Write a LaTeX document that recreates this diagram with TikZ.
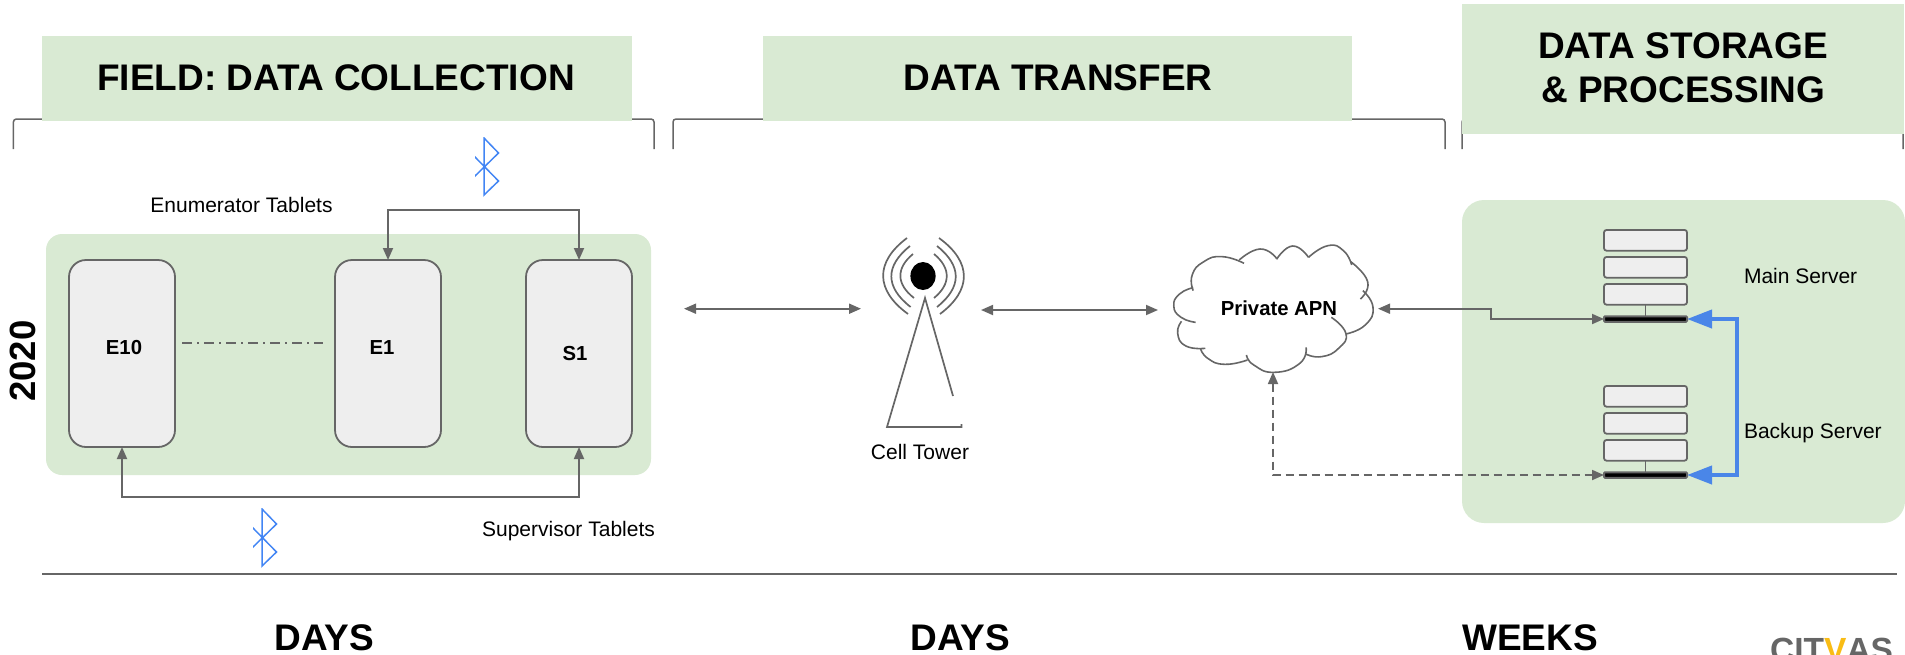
\documentclass[tikz,border=0pt]{standalone}
\usepackage{fontspec}
\setmainfont{Liberation Sans}
\usetikzlibrary{arrows.meta}
\definecolor{pale}{HTML}{D9EAD3}
\definecolor{ink}{HTML}{666666}
\definecolor{tab}{HTML}{EEEEEE}
\definecolor{bt}{HTML}{4285F4}
\definecolor{bluelink}{HTML}{4A86E8}
\definecolor{logoy}{HTML}{F9BC15}
\tikzset{
  x=1pt,y=-1pt,
  lbl/.style={inner sep=0pt,outer sep=0pt,font=\fontsize{21}{21}\selectfont,anchor=base,text=black},
  lblb/.style={lbl,font=\fontsize{20.3}{20.3}\selectfont\bfseries},
  head/.style={inner sep=0pt,outer sep=0pt,font=\fontsize{37}{44}\selectfont\bfseries,anchor=base,text=black,align=center},
  band/.style={fill=pale,draw=none,inner sep=0pt,outer sep=0pt},
  brace/.style={draw=ink,line width=1.5pt,rounded corners=3pt},
  tablet/.style={draw=ink,line width=1.8pt,fill=tab,rounded corners=17pt,minimum width=106pt,minimum height=187pt,inner sep=0pt,outer sep=0pt},
  conn/.style={draw=ink,line width=1.8pt,{Triangle[length=12pt,width=10pt]}-{Triangle[length=12pt,width=10pt]}},
  btline/.style={draw=bt,line width=1.5pt},
  srv/.style={draw=ink,line width=1.8pt,fill=tab,rounded corners=2.5pt,minimum width=83pt,minimum height=20.7pt,inner sep=0pt,outer sep=0pt},
  bar/.style={draw=ink,line width=2pt,fill=black,rounded corners=1pt,minimum width=83pt,minimum height=5.5pt,inner sep=0pt,outer sep=0pt},
  twr/.style={draw=ink,line width=1.7pt},
}
\newcommand{\BlueMark}[2]{%
  \begin{scope}
    \clip (#1-9,#2-1) rectangle (#1+16,#2+58);
    \draw[btline,line join=miter] (#1-10,#2+18) -- (#1+14.5,#2+43) -- (#1,#2+57) -- (#1,#2) -- (#1+14.5,#2+15) -- (#1-10,#2+39);
  \end{scope}}
\newcommand{\ServerStack}[2]{%
  \node[srv] (#1a) at (1645.5,#2+10.3) {};
  \node[srv] (#1b) at (1645.5,#2+37.3) {};
  \node[srv] (#1c) at (1645.5,#2+64.3) {};
  \node[bar] (#1bar) at (1645.5,#2+89) {};
  \draw[draw=ink,line width=1.5pt] (#1c.south) -- (#1bar.north);}
\begin{document}
\begin{tikzpicture}
\useasboundingbox (0,0) rectangle (1905,654);
% brackets
\draw[brace] (13.4,149) -- (13.4,119) -- (654,119) -- (654,149);
\draw[brace] (673,149) -- (673,119) -- (1445,119) -- (1445,149);
\draw[brace] (1462,149) -- (1462,119) -- (1903,119) -- (1903,149);
% title bands
\node[band,minimum width=590pt,minimum height=84.7pt] (b1) at (337,78.3) {};
\node[band,minimum width=589pt,minimum height=84.7pt] (b2) at (1057.5,78.3) {};
\node[band,minimum width=442pt,minimum height=130pt] (b3) at (1683,69) {};
\node[head] (t1) at (336,90.7) {FIELD: DATA COLLECTION};
\node[head] (t2) at (1058,90.7) {DATA TRANSFER};
\node[head] (t3a) at (1683,58.7) {DATA STORAGE};
\node[head] (t3b) at (1683,102.4) {\& PROCESSING};
% containers
\node[band,rounded corners=16pt,minimum width=605pt,minimum height=241pt] (field) at (348.5,354.5) {};
\node[band,rounded corners=22pt,minimum width=443pt,minimum height=323pt] (store) at (1683.5,361.5) {};
% tablets
\node[tablet] (e10) at (122,353.5) {};
\node[tablet] (e1) at (388,353.5) {};
\node[tablet] (s1) at (579,353.5) {};
\node[lblb] (e10t) at (124,354) {E10};
\node[lblb] (e1t) at (382,354) {E1};
\node[lblb] (s1t) at (575,360) {S1};
\coordinate (dotA) at (182,343);
\coordinate (dotB) at (323,343);
\draw[draw=ink,line width=1.5pt,dash pattern=on 10pt off 5pt on 2pt off 5pt] (dotA) -- (dotB);
\coordinate (busTop) at (483,210);
\coordinate (busBot) at (350,497);
\draw[conn] (e1.north) |- (busTop) -| (s1.north);
\draw[conn] (e10.south) |- (busBot) -| (s1.south);
\node[lbl] (enum) at (241.5,212.5) {Enumerator Tablets};
\node[lbl] (sup) at (568.5,536) {Supervisor Tablets};
\BlueMark{484}{138}
\BlueMark{262}{509}
% year
\node[inner sep=0pt,font=\fontsize{36.5}{36.5}\selectfont\bfseries,rotate=90,anchor=base] (yr) at (35,361) {2020};
% tower
\fill[black] (923,276) ellipse [x radius=12.6,y radius=14];
\draw[twr] (907,238) .. controls (875,262) and (875,290) .. (908,314);
\draw[twr] (910,246) .. controls (885,266) and (885,287) .. (910.6,307);
\draw[twr] (913,254) .. controls (896,268) and (896,284) .. (914,298);
\draw[twr] (939,238) .. controls (972,262) and (972,290) .. (940,314);
\draw[twr] (937,246) .. controls (962,266) and (962,287) .. (937,307);
\draw[twr] (934,254) .. controls (951,268) and (951,284) .. (934,298);
\coordinate (apex) at (925,298);
\coordinate (footL) at (887,427);
\coordinate (footR) at (961.5,427);
\coordinate (legR) at (953,396);
\draw[twr] (legR) -- (apex) -- (footL) -- (footR) -- ++(0,-3);
\node[lbl] (cell) at (920,459) {Cell Tower};
% arrows
\coordinate (a1) at (684,308.7);
\coordinate (a2) at (861,308.7);
\coordinate (a3) at (981,310);
\coordinate (a4) at (1158,310);
\draw[conn] (a1) -- (a2);
\draw[conn] (a3) -- (a4);
% cloud
\begin{scope}[xshift=660pt,yshift=-200pt,x=0.4847pt,y=-0.3333pt]
\begin{scope}[draw=ink,line width=1.6pt]
\draw plot[smooth,tension=0.9] coordinates {(1105,367) (1075,352) (1060,318) (1072,282) (1100,263)};
\draw plot[smooth,tension=0.9] coordinates {(1100,272) (1098,225) (1122,185) (1160,170) (1205,190)};
\draw plot[smooth,tension=0.9] coordinates {(1195,180) (1238,147) (1272,175)};
\draw plot[smooth,tension=0.9] coordinates {(1272,178) (1305,138) (1338,172)};
\draw plot[smooth,tension=0.9] coordinates {(1338,172) (1378,137) (1410,152) (1427,195)};
\draw plot[smooth,tension=0.9] coordinates {(1425,185) (1460,245) (1445,297)};
\draw plot[smooth,tension=0.9] coordinates {(1450,272) (1471,322) (1455,375) (1415,402)};
\draw plot[smooth,tension=0.9] coordinates {(1385,352) (1415,400) (1400,445) (1365,470) (1332,462)};
\draw plot[smooth,tension=0.9] coordinates {(1333,442) (1320,490) (1268,517) (1225,495) (1210,465)};
\draw plot[smooth,tension=0.9] coordinates {(1212,480) (1165,493) (1130,475) (1115,445)};
\draw plot[smooth,tension=0.9] coordinates {(1125,445) (1085,438) (1068,400) (1076,364)};
\end{scope}
\end{scope}
\node[lblb] (apn) at (1279,315) {Private APN};
\coordinate (cloudR) at (1378,308.7);
\coordinate (cloudB) at (1273,372);
% servers
\ServerStack{m}{230}
\ServerStack{k}{386}
\node[lbl,anchor=base west] (mainl) at (1744,283) {Main Server};
\node[lbl,anchor=base west] (backl) at (1744,438) {Backup Server};
\coordinate (bendA) at (1491,314);
\draw[conn] (cloudR) -| (bendA) |- (mbar.west);
\draw[conn,dash pattern=on 8pt off 5pt] (cloudB) |- (kbar.west);
\coordinate (bendC) at (1737,400);
\draw[draw=bluelink,line width=4pt,{Triangle[length=25pt,width=18pt]}-{Triangle[length=25pt,width=18pt]}] (mbar.east) -| (bendC) |- (kbar.east);
% foot
\coordinate (ruleA) at (42,574.3);
\coordinate (ruleB) at (1897,574.3);
\draw[draw=ink,line width=1.8pt] (ruleA) -- (ruleB);
\node[head] (d1) at (324,650) {DAYS};
\node[head] (d2) at (960,650) {DAYS};
\node[head] (w) at (1530,650) {WEEKS};
\begin{scope}
\clip (1740,620) rectangle (1905,654);
\node[inner sep=0pt,anchor=base west,font=\fontsize{33.5}{33.5}\selectfont\bfseries,text=ink] (logo) at (1770,661) {CIT\textcolor{logoy}{V}AS};
\end{scope}
\end{tikzpicture}
\end{document}
